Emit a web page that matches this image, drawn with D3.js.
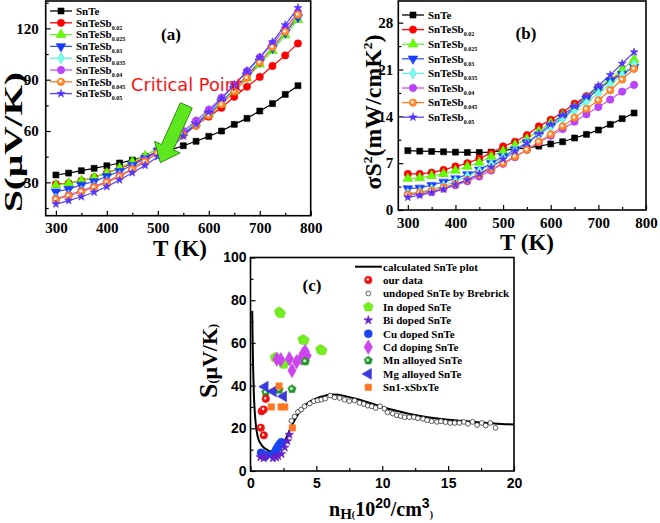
<!DOCTYPE html>
<html>
<head>
<meta charset="utf-8">
<script src="https://cdn.jsdelivr.net/npm/d3@7"></script>
<style>body{margin:0;background:#fff;}</style>
</head>
<body>
<svg width="660" height="523"></svg>
<script>
var svg = d3.select('svg');
var serif = 'Liberation Serif, Times New Roman, serif';
var sans = 'Liberation Sans, Arial, sans-serif';

// ---- panel (a) / (b) data ----
var temps = [300,325,350,375,400,425,450,475,500,525,550,575,600,625,650,675,700,725,750,775];
var sampleSubs = ['', '0.02', '0.025', '0.03', '0.035', '0.04', '0.045', '0.05'];

var S_SnTe   = [34.3,35.4,36.8,38.2,39.7,41.3,43,45,47,49,51.4,54,56.9,60,63.9,67.4,71.7,76,81.4,86.5];
var S_Sb002  = [29,29.5,31,33,35.5,38,41,44.5,48.5,53,58.5,63.5,68.4,73.6,80,85.9,91.6,98,104.2,111.2];
var S_Sb0025 = [28.4,29.5,31,33,35.5,38.5,42,45.5,50,54.5,59,64.5,70,76,83,91,99,107,116,125];
var S_Sb003  = [24.5,26,28.5,30.5,33.5,36.5,40,44,48.5,53.5,58.5,64,70,77,84.5,92.5,100.5,108.5,117.5,126.5];
var S_Sb0035 = [20.5,22.5,25,27.5,30.5,34,38,42.5,47.5,53,59,65.5,72,79,86.5,94.5,102.5,111,120,129];
var S_Sb004  = [20.3,22.5,25,27.5,30.5,34,38,43,48,54,60,66,72.5,79.5,87,95,103,111,120,129.5];
var S_Sb0045 = [20,22,24.5,27,30,33.5,37.5,42,47,52.5,57.5,63,69,75.5,83,91,100,109,118,128];
var S_Sb005  = [17.3,19.3,21.6,24.2,27.5,31.4,35.6,39.9,45,50,57,64,71,79,87,95,103,112,122,132];

var PF_SnTe   = [8.87,8.8,8.75,8.7,8.65,8.6,8.6,8.65,8.9,9.1,9.3,9.55,9.87,10.2,10.76,11.3,11.96,12.8,13.65,14.5];
var PF_Sb002  = [5.4,5.4,5.6,6.0,6.5,7.0,7.7,8.5,9.5,10.2,11.2,12.5,13.5,14.6,15.9,17.0,18.3,19.4,20.5,21.3];
var PF_Sb0025 = [4.7,4.8,5.1,5.4,5.9,6.5,7.1,8.0,8.8,9.7,10.6,11.8,13.0,14.2,15.4,16.8,18.2,19.5,21.0,22.5];
var PF_Sb003  = [3.2,3.3,3.7,4.2,4.7,5.3,6.0,7.0,8.0,9.0,10.1,11.2,12.5,13.8,15.2,16.6,18.0,19.3,20.3,21.4];
var PF_Sb0035 = [2.5,2.7,3.1,3.6,4.3,5.0,5.8,6.8,7.8,8.9,10.0,11.2,12.4,13.6,14.9,16.1,17.4,18.8,20.2,21.8];
var PF_Sb004  = [2.3,2.4,2.7,3.2,3.7,4.3,5.0,5.9,6.9,7.9,9.0,10.1,11.1,12.1,13.2,14.3,15.4,16.5,17.7,18.7];
var PF_Sb0045 = [2.3,2.6,2.9,3.4,3.9,4.5,5.3,6.1,7.0,8.0,9.0,10.2,11.3,12.5,13.8,15.1,16.4,17.9,19.5,21.1];
var PF_Sb005  = [1.9,2.2,2.6,3.1,3.8,4.5,5.4,6.4,7.6,8.8,10.0,11.4,12.8,14.2,15.5,17.0,18.6,20.2,21.9,23.6];

var tTicks = [300,400,500,600,700,800];
var sTicks = [30,60,90,120];
var pfTicks = [0,7,14,21,28];

// ---- panel (c) data ----
var calcN = [0.13,0.16,0.2,0.25,0.3,0.4,0.5,0.6,0.8,1.0,1.3,1.6,1.9,2.1,2.3,2.6,3.0,3.5,4.0,4.5,5.0,5.5,6.0,6.5,7.0,7.5,8,9,10,11,12,13,14,15,16,17,18,19,20];
var calcS = [75,62,48,37,30,22,17.5,15,12.5,11,9.8,9,8.6,8.8,10.5,14,19.5,25.5,30,32.5,34,35,35.7,35.8,35.3,34.6,33.8,32,30,28.3,26.8,25.6,24.7,24,23.5,23,22.5,22,21.8];
var brebN = [3.1,3.35,3.6,3.85,4.1,4.5,4.8,5.1,5.37,5.67,6.05,6.38,6.76,7.14,7.5,7.9,8.27,8.6,8.9,9.2,9.5,9.83,10.16,10.4,10.8,11.1,11.4,11.7,12.05,12.4,12.7,13.1,13.4,13.75,14.15,14.45,14.8,15.15,15.5,15.85,16.2,16.5,16.85,17.2,17.55,17.85,18.2,18.6];
var brebS = [23.5,25.5,27.7,28.8,30.3,31.6,32.7,33.1,33.4,33.9,35.3,34.5,34.2,33.4,32.7,33,31.9,31.4,30.6,30.3,29.5,30.3,29.2,27.5,26.9,26.1,25.7,25.2,25.2,25.2,24.7,24.4,23.8,23.3,23,23.3,22.9,22.5,22.5,22.5,23,22.1,23,21.5,22.5,21.3,22.5,20.2];
var ourN = [0.78,1.01,0.85,1.0,1.16];
var ourS = [20.3,16.7,28,28.8,33.8];
var inN = [1.85,2.0,2.45,2.55,2.17,2.3,3.95,4.1,5.3,5.45];
var inS = [53.2,52.8,50.5,50,74.6,73.8,61.6,61.2,57,56.4];
var biN = [0.75,1.0,1.1,1.7,1.95,2.1,2.35,2.6,2.8,2.95];
var biS = [6.5,6,6.8,6,6.3,7,8,11,14,17];
var cuN = [0.8,0.9,1.0,1.1,1.2,1.75,1.85,1.95,2.05,2.15,2.25,2.35];
var cuS = [8.5,7.8,7.2,6.8,7.5,7.8,8.8,10,11,12,12.8,13.5];
var cdN = [2.0,2.3,2.95,3.15,3.5,3.85,4.0,4.15,4.3];
var cdS = [52.4,52.1,52.6,47.1,51.2,52.9,54.9,56,54];
var mnN = [1.16,2.17,3.15,4.16];
var mnS = [36.8,38.1,38.4,51.3];
var mgN = [1.1,1.72,2.5];
var mgS = [39.5,37.3,35];
var sbN = [2.17,1.58,2.32,2.6,3.18];
var sbS = [39.8,30,30,30,20.2];
var nTicks = [0,5,10,15,20];
var cTicks = [0,20,40,60,80,100];

// ---- symbols ----
var symbolPentagon = {
    draw: function(ctx, size) {
        var r = Math.sqrt(size / 2.378);
        for (var k = 0; k < 5; k++) {
            var a = -Math.PI / 2 + k * 2 * Math.PI / 5;
            if (k === 0) ctx.moveTo(r * Math.cos(a), r * Math.sin(a));
            else ctx.lineTo(r * Math.cos(a), r * Math.sin(a));
        }
        ctx.closePath();
    }
};

function drawMarker(g, m, px, py) {
    g.append('path')
        .attr('d', d3.symbol().type(m.type).size(m.size)())
        .attr('transform', 'translate(' + px + ',' + py + ') rotate(' + (m.rot || 0) + ')')
        .attr('fill', m.fill)
        .attr('stroke', m.stroke || m.fill)
        .attr('stroke-width', m.sw || 0.6);
    if (m.dot) {
        g.append('circle').attr('cx', px - 0.6).attr('cy', py - 0.6).attr('r', m.dot).attr('fill', '#fff').attr('opacity', 0.85);
    }
}

function axes(g, x, y, o) {
    var x0 = x.range()[0], x1 = x.range()[1], y0 = y.range()[0], y1 = y.range()[1];
    var xa = g.append('g').attr('transform', 'translate(0,' + y0 + ')')
        .call(d3.axisBottom(x).tickValues(o.xt).tickSize(-5).tickPadding(o.xpad).tickFormat(d3.format('d')));
    var xm = g.append('g').attr('transform', 'translate(0,' + y0 + ')')
        .call(d3.axisBottom(x).tickValues(o.xm).tickSize(-3).tickFormat(''));
    var ya = g.append('g').attr('transform', 'translate(' + x0 + ',0)')
        .call(d3.axisLeft(y).tickValues(o.yt).tickSize(-5).tickPadding(o.ypad).tickFormat(d3.format('d')));
    var ym = g.append('g').attr('transform', 'translate(' + x0 + ',0)')
        .call(d3.axisLeft(y).tickValues(o.ym).tickSize(-3).tickFormat(''));
    [xa, xm, ya, ym].forEach(function(a) {
        a.select('.domain').remove();
        a.selectAll('line').attr('stroke', '#000').attr('stroke-width', 1.2);
        a.selectAll('text').attr('font-family', o.font).attr('font-size', o.fs)
            .attr('font-weight', 'bold').attr('fill', '#000');
    });
    g.append('rect').attr('x', x0).attr('y', y1).attr('width', x1 - x0).attr('height', y0 - y1)
        .attr('fill', 'none').attr('stroke', '#000').attr('stroke-width', 1.6);
}

// ---- series styles for (a),(b) ----
var seriesStyle = [
    {line: '#000', m: {type: d3.symbolSquare, size: 36, fill: '#000'}},
    {line: '#ff0000', m: {type: d3.symbolCircle, size: 42, fill: '#ff0000'}},
    {line: '#66ee33', m: {type: d3.symbolTriangle, size: 40, fill: '#66ff00', stroke: '#55dd00'}},
    {line: '#3355ee', m: {type: d3.symbolTriangle, size: 40, fill: '#1a3cff', rot: 180}},
    {line: '#66eedd', m: {type: d3.symbolDiamond, size: 36, fill: '#77ffee', stroke: '#55ddcc'}},
    {line: '#cc55ee', m: {type: d3.symbolCircle, size: 42, fill: '#bb44ff', stroke: '#aa33ee'}},
    {line: '#ff7722', m: {type: d3.symbolCircle, size: 42, fill: '#ff8a30', stroke: '#ff6a00', dot: 1.6}},
    {line: '#5544ff', m: {type: d3.symbolStar, size: 20, fill: '#5533ff'}}
];

function seriesPanel(opt) {
    var g = svg.append('g');
    var x = d3.scaleLinear().domain(opt.xd).range(opt.xr);
    var y = d3.scaleLinear().domain(opt.yd).range(opt.yr);
    axes(g, x, y, {xt: tTicks, xm: [350,450,550,650,750], yt: opt.yt, ym: opt.ym,
                   xpad: 7, ypad: opt.ypad, font: serif, fs: 15});
    var line = d3.line().x(function(d, i) { return x(temps[i]); }).y(function(d) { return y(d); });
    opt.series.forEach(function(vals, k) {
        var st = seriesStyle[k];
        g.append('path').datum(vals).attr('d', line).attr('fill', 'none')
            .attr('stroke', st.line).attr('stroke-width', 1.2);
    });
    opt.series.forEach(function(vals, k) {
        var st = seriesStyle[k];
        vals.forEach(function(v, i) { drawMarker(g, st.m, x(temps[i]), y(v)); });
    });
    // legend
    sampleSubs.forEach(function(sub, k) {
        var st = seriesStyle[k];
        var ly = opt.ly0 + k * opt.ldy;
        g.append('line').attr('x1', opt.lx).attr('x2', opt.lx + 22).attr('y1', ly).attr('y2', ly)
            .attr('stroke', st.line).attr('stroke-width', 1.3);
        drawMarker(g, st.m, opt.lx + 11, ly);
        var t = g.append('text').attr('x', opt.lx + 26).attr('y', ly + 3.8)
            .attr('font-family', serif).attr('font-weight', 'bold').attr('font-size', 11);
        if (sub === '') t.text('SnTe');
        else {
            t.append('tspan').text('SnTeSb');
            t.append('tspan').attr('font-size', 6).attr('dy', 3).text(sub);
        }
    });
    g.append('text').attr('x', opt.tag[0]).attr('y', opt.tag[1]).attr('text-anchor', 'middle')
        .attr('font-family', serif).attr('font-weight', 'bold').attr('font-size', 17).text(opt.tagText);
    g.append('text').attr('x', opt.xl[0]).attr('y', opt.xl[1]).attr('text-anchor', 'middle')
        .attr('font-family', serif).attr('font-weight', 'bold').attr('font-size', 23).text('T (K)');
    return {g: g, x: x, y: y};
}

// ---- panel (a) ----
var pa = seriesPanel({
    xd: [280, 800], xr: [45.7, 310.7], yd: [10.5, 136], yr: [215.7, 1],
    yt: sTicks, ym: [15,45,75,105,135], ypad: 7,
    series: [S_SnTe, S_Sb002, S_Sb0025, S_Sb003, S_Sb0035, S_Sb004, S_Sb0045, S_Sb005],
    lx: 50, ly0: 11, ldy: 11.8, tag: [171, 40], tagText: '(a)', xl: [180, 256]
});
pa.g.append('text').attr('transform', 'translate(22,142) rotate(-90)').attr('text-anchor', 'middle')
    .attr('font-family', serif).attr('font-weight', 'bold').attr('font-size', 26)
    .attr('textLength', 140).attr('lengthAdjust', 'spacingAndGlyphs').text('S(\u03bcV/K)');
pa.g.append('text').attr('x', 131).attr('y', 91).attr('fill', '#ff1010')
    .attr('font-family', 'DejaVu Sans, sans-serif').attr('font-size', 18)
    .attr('textLength', 112).attr('lengthAdjust', 'spacingAndGlyphs').text('Critical Point');
// green arrow pointing at the crossing
(function() {
    var tail = [pa.x(556), pa.y(75)], tip = [pa.x(505), pa.y(41.5)];
    var dx = tip[0] - tail[0], dy = tip[1] - tail[1], L = Math.sqrt(dx * dx + dy * dy);
    var ux = dx / L, uy = dy / L, px = -uy, py = ux;
    var hl = 17, hw = 14, sw = 6.5;
    var bx = tip[0] - ux * hl, by = tip[1] - uy * hl;
    var pts = [
        [tail[0] + px * sw, tail[1] + py * sw],
        [bx + px * sw, by + py * sw],
        [bx + px * hw, by + py * hw],
        tip,
        [bx - px * hw, by - py * hw],
        [bx - px * sw, by - py * sw],
        [tail[0] - px * sw, tail[1] - py * sw]
    ];
    pa.g.append('path').attr('d', d3.line()(pts) + 'Z').attr('fill', '#5ee61e')
        .attr('stroke', '#2f8f12').attr('stroke-width', 1);
})();

// ---- panel (b) ----
var pb = seriesPanel({
    xd: [280, 800], xr: [398.3, 646], yd: [0, 31.24], yr: [210, 1],
    yt: pfTicks, ym: [3.5,10.5,17.5,24.5], ypad: 5,
    series: [PF_SnTe, PF_Sb002, PF_Sb0025, PF_Sb003, PF_Sb0035, PF_Sb004, PF_Sb0045, PF_Sb005],
    lx: 402, ly0: 15, ldy: 14.6, tag: [526, 39], tagText: '(b)', xl: [527, 250]
});
(function() {
    var t = pb.g.append('text').attr('transform', 'translate(381,112) rotate(-90)').attr('text-anchor', 'middle')
        .attr('font-family', serif).attr('font-weight', 'bold').attr('font-size', 23)
        .attr('textLength', 155).attr('lengthAdjust', 'spacingAndGlyphs');
    t.append('tspan').text('\u03c3S');
    t.append('tspan').attr('font-size', 13).attr('dy', -9).text('2');
    t.append('tspan').attr('dy', 9).text('(mW/cmK');
    t.append('tspan').attr('font-size', 13).attr('dy', -9).text('2');
    t.append('tspan').attr('dy', 9).text(')');
})();

// ---- panel (c) ----
(function() {
    var g = svg.append('g');
    var x = d3.scaleLinear().domain([0, 20]).range([250.5, 514]);
    var y = d3.scaleLinear().domain([0, 100]).range([471, 257.5]);
    axes(g, x, y, {xt: nTicks, xm: [2.5,7.5,12.5,17.5], yt: cTicks, ym: [10,30,50,70,90],
                   xpad: 7, ypad: 4, font: sans, fs: 14});

    var calc = d3.range(calcN.length).map(function(i) { return [calcN[i], calcS[i]]; });
    g.append('path').datum(calc)
        .attr('d', d3.line().curve(d3.curveMonotoneX).x(function(d) { return x(d[0]); }).y(function(d) { return y(d[1]); }))
        .attr('fill', 'none').attr('stroke', '#000').attr('stroke-width', 2);

    var groups = [
        {name: 'our data', n: ourN, s: ourS, m: {type: d3.symbolCircle, size: 44, fill: '#ee1111', dot: 1.3}},
        {name: 'undoped SnTe by Brebrick', n: brebN, s: brebS, m: {type: d3.symbolCircle, size: 18, fill: '#fff', stroke: '#333', sw: 0.8}},
        {name: 'In doped SnTe', n: inN, s: inS, m: {type: symbolPentagon, size: 60, fill: '#77ee22', stroke: '#66dd11'}},
        {name: 'Bi doped SnTe', n: biN, s: biS, m: {type: d3.symbolStar, size: 24, fill: '#6622cc'}},
        {name: 'Cu doped SnTe', n: cuN, s: cuS, m: {type: d3.symbolCircle, size: 50, fill: '#1a44ee'}},
        {name: 'Cd doping SnTe', n: cdN, s: cdS, m: {type: d3.symbolDiamond, size: 60, fill: '#cc44ee'}},
        {name: 'Mn alloyed SnTe', n: mnN, s: mnS, m: {type: symbolPentagon, size: 45, fill: '#22992a', dot: 1.5}},
        {name: 'Mg alloyed SnTe', n: mgN, s: mgS, m: {type: d3.symbolTriangle, size: 50, fill: '#3a3add', rot: -90}},
        {name: 'Sn1-xSbxTe', n: sbN, s: sbS, m: {type: d3.symbolSquare, size: 40, fill: '#ff7722'}}
    ];
    // Brebrick first (behind), then the rest
    var order = [1, 2, 5, 6, 7, 8, 0, 4, 3];
    order.forEach(function(k) {
        var gr = groups[k];
        gr.n.forEach(function(v, i) { drawMarker(g, gr.m, x(v), y(gr.s[i])); });
    });

    // legend
    var lx = 355, ly0 = 266.7, ldy = 13.4;
    g.append('line').attr('x1', lx).attr('x2', lx + 27).attr('y1', ly0).attr('y2', ly0)
        .attr('stroke', '#000').attr('stroke-width', 2);
    g.append('text').attr('x', 383).attr('y', ly0 + 3.8).attr('font-family', serif)
        .attr('font-weight', 'bold').attr('font-size', 11).text('calculated SnTe plot');
    groups.forEach(function(gr, k) {
        var ly = ly0 + (k + 1) * ldy;
        drawMarker(g, gr.m, 368.3, ly);
        g.append('text').attr('x', 383).attr('y', ly + 3.8).attr('font-family', serif)
            .attr('font-weight', 'bold').attr('font-size', 11).text(gr.name);
    });

    g.append('text').attr('x', 312).attr('y', 291).attr('text-anchor', 'middle')
        .attr('font-family', serif).attr('font-weight', 'bold').attr('font-size', 17).text('(c)');

    var yl = g.append('text').attr('transform', 'translate(217,361) rotate(-90)').attr('text-anchor', 'middle')
        .attr('font-family', serif).attr('font-weight', 'bold').attr('font-size', 22);
    yl.append('tspan').attr('font-size', 26).text('S');
    yl.append('tspan').attr('font-size', 12).text('(');
    yl.append('tspan').text('\u03bcV/K');
    yl.append('tspan').attr('font-size', 12).text(')');

    var xl = g.append('text').attr('x', 381).attr('y', 516).attr('text-anchor', 'middle')
        .attr('font-family', serif).attr('font-weight', 'bold').attr('font-size', 20);
    xl.append('tspan').text('n');
    xl.append('tspan').attr('font-size', 15).attr('dy', 3).text('H');
    xl.append('tspan').attr('font-size', 10).attr('dy', -1).text('(');
    xl.append('tspan').attr('dy', -2).text('10');
    xl.append('tspan').attr('font-family', sans).attr('font-size', 14).attr('dy', -8).text('20');
    xl.append('tspan').attr('dy', 8).text('/cm');
    xl.append('tspan').attr('font-family', sans).attr('font-size', 14).attr('dy', -8).text('3');
    xl.append('tspan').attr('font-size', 10).attr('dy', 10).text(')');
})();
</script>
</body>
</html>
